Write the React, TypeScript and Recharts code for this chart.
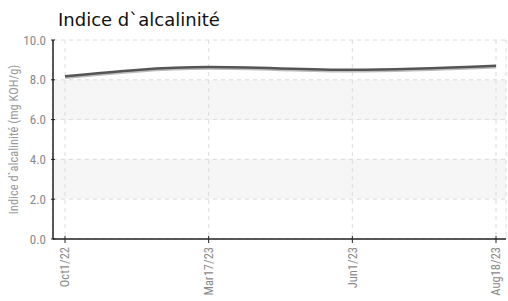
import React from 'react';
import { LineChart, Line, XAxis, YAxis, CartesianGrid } from 'recharts';

const dates = ['Oct1/22', 'Mar17/23', 'Jun1/23', 'Aug18/23'];
const alkalinity = [8.18, 8.64, 8.5, 8.7];
const yTicks = [0, 2, 4, 6, 8, 10];

const data = dates.map((d, i) => ({ date: d, value: alkalinity[i] }));

const FONT = '"Roboto Condensed", "DejaVu Sans Condensed", "DejaVu Sans", sans-serif';

const XTick = (props: any) => {
  const { x, y, payload } = props;
  return (
    <g transform={`translate(${x},${y})`}>
      <line x1={0} x2={0} y1={-9} y2={-2} stroke="#222" strokeWidth={1} />
      <text transform="rotate(-90)" x={-2} y={0} dy="0.35em" textAnchor="end" fill="#8a8a8a" fontSize={12.5} fontFamily={FONT} style={{ fontStretch: 'condensed' }}>
        {payload.value}
      </text>
    </g>
  );
};

const YTick = (props: any) => {
  const { x, y, payload } = props;
  return (
    <g transform={`translate(${x},${y})`}>
      <line x1={5} x2={9} y1={0} y2={0} stroke="#222" strokeWidth={1} />
      <text x={0} y={0} dy="0.35em" textAnchor="end" fill="#8a8a8a" fontSize={13} fontFamily={FONT} style={{ fontStretch: 'condensed' }}>
        {Number(payload.value).toFixed(1)}
      </text>
    </g>
  );
};

export default function App() {
  return (
    <div style={{ position: 'absolute', left: 0, top: 0, width: 508, height: 301, background: '#fff' }}>
      <div style={{ position: 'absolute', left: 58, top: 11, lineHeight: '18px', fontFamily: '"DejaVu Sans", sans-serif', fontSize: 18, color: '#111', whiteSpace: 'nowrap' }}>
        Indice d`alcalinité
      </div>
      <LineChart width={508} height={301} data={data} margin={{ top: 40, right: 2, left: 0, bottom: 0 }}>
        <CartesianGrid stroke="#dcdcdc" strokeDasharray="4 4" horizontalFill={['#ffffff', '#f6f6f6']} />
        <XAxis
          dataKey="date"
          padding={{ left: 12, right: 10 }}
          height={62}
          interval={0}
          tick={<XTick />}
          tickSize={4}
          tickLine={false}
          axisLine={{ stroke: '#222', strokeWidth: 1.5 }}
        />
        <YAxis
          width={53}
          domain={[0, 10]}
          ticks={yTicks}
          tick={<YTick />}
          tickSize={5}
          tickLine={false}
          axisLine={{ stroke: '#222', strokeWidth: 1.5 }}
          label={{ value: 'Indice d`alcalinité (mg KOH/g)', angle: -90, position: 'center', dx: -13, fill: '#999', fontSize: 12.5, fontFamily: FONT, style: { fontStretch: 'condensed' } }}
        />
        <Line
          type="monotone"
          dataKey="value"
          stroke="#bdbdbd"
          strokeWidth={2.5}
          dot={false}
          isAnimationActive={false}
          style={{ transform: 'translate(0px, 1.5px)' }}
        />
        <Line type="monotone" dataKey="value" stroke="#555" strokeWidth={2.5} dot={false} isAnimationActive={false} />
      </LineChart>
    </div>
  );
}
